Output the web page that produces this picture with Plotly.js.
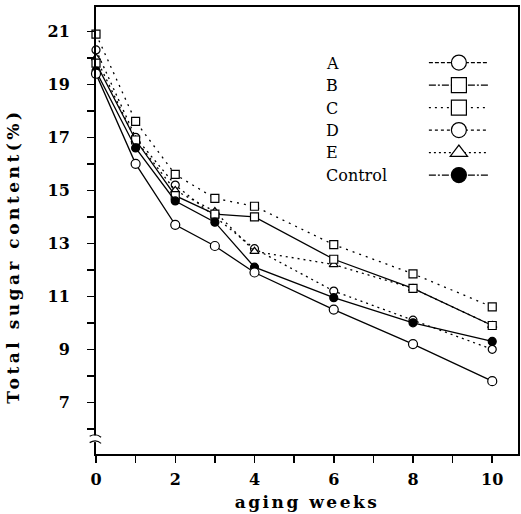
<!DOCTYPE html>
<html>
<head>
<meta charset="utf-8">
<script src="https://cdn.plot.ly/plotly-3.0.1.min.js"></script>
<style>
  body { margin: 0; background: #fff; }
  #chart { width: 521px; height: 514px; }
  .legend .traces { opacity: 1 !important; }
</style>
</head>
<body>
<div id="chart"></div>
<script>
const weeks = [0, 1, 2, 3, 4, 6, 8, 10];
const seriesNames = ["A", "B", "C", "D", "E", "Control"];
const valuesA = [19.4, 16.0, 13.7, 12.9, 11.9, 10.5, 9.2, 7.8];
const valuesB = [19.8, 16.9, 14.8, 14.1, 14.0, 12.4, 11.3, 9.9];
const valuesC = [20.9, 17.6, 15.6, 14.7, 14.4, 12.95, 11.85, 10.6];
const valuesD = [20.3, 17.0, 15.2, 14.0, 12.8, 11.2, 10.1, 9.0];
const valuesE = [20.0, 16.9, 15.0, 14.2, 12.7, 12.2, 11.3, 9.9];
const valuesControl = [19.5, 16.6, 14.6, 13.8, 12.1, 10.95, 10.0, 9.3];
const yTickVals = [7, 9, 11, 13, 15, 17, 19, 21];
const xTickVals = [0, 2, 4, 6, 8, 10];

const serif = "DejaVu Serif, Liberation Serif, serif";

function mk(y, symbol, fill, dash, size) {
  return {
    x: weeks, y: y, showlegend: false,
    type: "scatter", mode: "lines+markers", cliponaxis: false,
    line: { color: "#000", width: 1.3, dash: dash },
    marker: { symbol: symbol, size: size, color: fill, line: { color: "#000", width: 1.2 } },
    hoverinfo: "skip"
  };
}

const traces = [
  mk(valuesC, "square", "#fff", "2px,5px", 8),
  mk(valuesD, "circle", "#fff", "2px,4px", 8),
  mk(valuesE, "triangle-up", "#fff", "2px,4px", 8),
  mk(valuesB, "square", "#fff", "solid", 8),
  mk(valuesControl, "circle", "#000", "solid", 8),
  mk(valuesA, "circle", "#fff", "solid", 9)
];

// legend key entries: same series, shown only in the legend with a larger key symbol
const seriesValues = [valuesA, valuesB, valuesC, valuesD, valuesE, valuesControl];
const keyStyles = [
  { symbol: "circle", fill: "#fff", dash: "4px,2px" },
  { symbol: "square", fill: "#fff", dash: "7px,2px,2px,2px" },
  { symbol: "square", fill: "#fff", dash: "2px,4px" },
  { symbol: "circle", fill: "#fff", dash: "3px,3px" },
  { symbol: "triangle-up", fill: "#fff", dash: "2px,3px" },
  { symbol: "circle", fill: "#000", dash: "7px,2px,2px,2px" }
];
seriesNames.forEach((n, i) => {
  const s = keyStyles[i];
  traces.push({
    x: weeks, y: seriesValues[i], name: " ", showlegend: true, legendrank: i + 1,
    visible: "legendonly",
    type: "scatter", mode: "lines+markers",
    line: { color: "#000", width: 1.1, dash: s.dash },
    marker: { symbol: s.symbol, size: 15, color: s.fill, line: { color: "#000", width: 1.2 } }
  });
});

// legend labels on the left of the symbols, as in the reference
const legendTop = 0.874, legendStep = 0.0501;
const annotations = seriesNames.map((n, i) => ({
  text: n, xref: "paper", yref: "paper", x: 0.541, y: legendTop - i * legendStep,
  xanchor: "left", yanchor: "middle", showarrow: false,
  font: { family: serif, size: 16, color: "#000" }
}));
annotations.push({
  text: "Total sugar content(%)", xref: "paper", yref: "paper",
  x: -0.195, y: 0.442, textangle: -90, showarrow: false,
  xanchor: "center", yanchor: "middle",
  font: { family: serif, size: 17, color: "#000", weight: "bold" }
});

const layout = {
  width: 521, height: 514,
  margin: { l: 96, r: 3, t: 7, b: 60 },
  paper_bgcolor: "#fff", plot_bgcolor: "#fff",
  showlegend: true,
  legend: {
    x: 0.777, y: 0.912, xanchor: "left", yanchor: "top",
    bgcolor: "rgba(0,0,0,0)", itemsizing: "trace", itemwidth: 60,
    font: { family: serif, size: 15, color: "#000" },
    tracegroupgap: 0, traceorder: "normal"
  },
  xaxis: {
    range: [0, 10.65], tickmode: "array", tickvals: xTickVals,
    ticks: "outside", ticklen: 7, tickwidth: 1.5, tickcolor: "#000",
    showline: true, linewidth: 2, linecolor: "#000", mirror: true,
    showgrid: false, zeroline: false, ticklabelstandoff: 3,
    tickfont: { family: serif, size: 16, color: "#000", weight: "bold" },
    minor: { dtick: 1, tick0: 0, ticks: "outside", ticklen: 7, tickwidth: 1.5, tickcolor: "#000", showgrid: false },
    title: { text: "aging weeks", standoff: 8, font: { family: serif, size: 17, color: "#000", weight: "bold" } }
  },
  yaxis: {
    range: [5.05, 21.92], tickmode: "array", tickvals: yTickVals,
    ticks: "outside", ticklen: 7, tickwidth: 1.5, tickcolor: "#000",
    showline: true, linewidth: 2, linecolor: "#000", mirror: true,
    showgrid: false, zeroline: false, ticklabelstandoff: 14,
    tickfont: { family: serif, size: 16, color: "#000", weight: "bold" },
    minor: { dtick: 1, tick0: 0, ticks: "outside", ticklen: 7, tickwidth: 1.5, tickcolor: "#000", showgrid: false }
  },
  shapes: [
    { type: "rect", xref: "paper", yref: "y", x0: -0.012, x1: 0.012, y0: 5.5, y1: 5.75,
      fillcolor: "#fff", line: { width: 0 }, layer: "above" },
    { type: "path", xref: "paper", yref: "y", path: "M -0.015 5.72 Q 0 5.85 0.012 5.68", line: { color: "#000", width: 1.2 } },
    { type: "path", xref: "paper", yref: "y", path: "M -0.015 5.48 Q 0 5.62 0.012 5.45", line: { color: "#000", width: 1.2 } }
  ],
  annotations: annotations
};

Plotly.newPlot("chart", traces, layout, { staticPlot: true, displayModeBar: false }).then(() => {
  document.querySelectorAll(".annotation-text").forEach(t => {
    if (t.textContent.indexOf("Total") === 0) t.style.letterSpacing = "3.5px";
  });
  document.querySelectorAll(".xtitle").forEach(t => { t.style.letterSpacing = "2.5px"; });
});
</script>
</body>
</html>
